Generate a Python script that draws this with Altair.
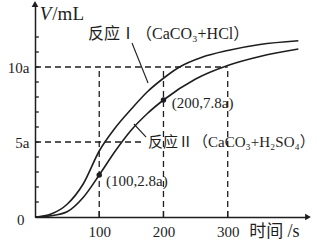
import altair as alt
import pandas as pd

# ---- data ----
t_I = [0, 25, 50, 75, 100, 125, 150, 175, 200, 225, 260, 300, 350, 410]
v_I = [0, 0.2, 0.85, 2.2, 4.4, 5.95, 7.2, 8.35, 9.25, 10.0, 10.65, 11.1, 11.5, 11.75]
t_II = [0, 25, 50, 75, 100, 125, 150, 175, 200, 250, 300, 350, 410]
v_II = [0, 0.08, 0.35, 1.3, 2.8, 4.4, 5.8, 6.9, 7.8, 9.2, 10.1, 10.7, 11.2]

x_tick_labels = [100, 200, 300]
y_tick_labels = [5, 10]
y_minor_ticks = list(range(1, 13))

marked_t = [100, 200]
marked_v = [2.8, 7.8]
marked_text = ["(100,2.8a)", "(200,7.8a)"]

XMAX, YMAX = 425, 14.2
INK = "#1e1e1e"
SERIF = "Liberation Serif"
MIX = "Liberation Serif, Noto Sans CJK SC"

curves = pd.DataFrame(
    {"t": t_I + t_II, "v": v_I + v_II,
     "s": ["I"] * len(t_I) + ["II"] * len(t_II)}
)

xs = alt.Scale(domain=[0, XMAX], nice=False, zero=True)
ys = alt.Scale(domain=[0, YMAX], nice=False, zero=True)

base = alt.Chart(curves)

lines = base.mark_line(interpolate="monotone", color=INK, strokeWidth=1.6).encode(
    x=alt.X("t:Q", scale=xs,
            axis=alt.Axis(values=x_tick_labels, ticks=False, grid=False, title=None,
                          domainColor=INK, domainWidth=1.5, labelFont=SERIF,
                          labelFontSize=15, labelColor=INK, labelPadding=7)),
    y=alt.Y("v:Q", scale=ys,
            axis=alt.Axis(values=y_tick_labels, ticks=False, grid=False, title=None,
                          labelExpr="datum.value + 'a'",
                          domainColor=INK, domainWidth=1.5, labelFont=SERIF,
                          labelFontSize=15, labelColor=INK, labelPadding=6)),
    detail="s:N",
)

dash_df = pd.DataFrame({
    "x": [0, 0, 100, 200, 300],
    "x2": [300, 170, 100, 200, 300],
    "y": [10, 5, 0, 0, 0],
    "y2": [10, 5, 10, 10, 10],
})
dashes = alt.Chart(dash_df).mark_rule(color=INK, strokeWidth=1.3, strokeDash=[6, 4]).encode(
    x=alt.X("x:Q", scale=xs), x2="x2:Q", y=alt.Y("y:Q", scale=ys), y2="y2:Q"
)

ytick_df = pd.DataFrame({"y": y_minor_ticks, "x": [0] * 12, "x2": [6] * 12})
yticks = alt.Chart(ytick_df).mark_rule(color=INK, strokeWidth=1.3).encode(
    x=alt.X("x:Q", scale=xs), x2="x2:Q", y=alt.Y("y:Q", scale=ys)
)
xtick_df = pd.DataFrame({"x": x_tick_labels, "y": [0] * 3, "y2": [0.4] * 3})
xticks = alt.Chart(xtick_df).mark_rule(color=INK, strokeWidth=1.3).encode(
    x=alt.X("x:Q", scale=xs), y=alt.Y("y:Q", scale=ys), y2="y2:Q"
)

pts = alt.Chart(pd.DataFrame({"t": marked_t, "v": marked_v})).mark_point(
    filled=True, color=INK, size=30, opacity=1
).encode(x=alt.X("t:Q", scale=xs), y=alt.Y("v:Q", scale=ys))

lead_df = pd.DataFrame({"x": [151, 154], "y": [11.6, 6.2], "x2": [176, 173], "y2": [8.93, 5.33]})
leaders = alt.Chart(lead_df).mark_rule(color=INK, strokeWidth=1.1).encode(
    x=alt.X("x:Q", scale=xs), x2="x2:Q", y=alt.Y("y:Q", scale=ys), y2="y2:Q"
)

arrow_up = alt.Chart(pd.DataFrame({"x": [0], "y": [YMAX]})).mark_point(
    shape="triangle-up", filled=True, color=INK, size=45, opacity=1
).encode(x=alt.X("x:Q", scale=xs), y=alt.Y("y:Q", scale=ys))
arrow_right = alt.Chart(pd.DataFrame({"x": [XMAX], "y": [0]})).mark_point(
    shape="triangle-right", filled=True, color=INK, size=45, opacity=1
).encode(x=alt.X("x:Q", scale=xs), y=alt.Y("y:Q", scale=ys))


def label(texts, xs_, ys_, size, font=MIX, align="left", style="normal"):
    df = pd.DataFrame({"x": xs_, "y": ys_, "txt": texts})
    return alt.Chart(df).mark_text(
        align=align, baseline="middle", fontSize=size, font=font, color=INK,
        fontStyle=style
    ).encode(x=alt.X("x:Q", scale=xs), y=alt.Y("y:Q", scale=ys), text="txt:N")


texts = [
    label(["V"], [7.5], [13.55], 19, font=SERIF, style="italic"),
    label(["/mL"], [27], [13.55], 19, font=SERIF),
    label(["时间"], [360], [-0.98], 17, font="Noto Sans CJK SC", align="center"),
    label(["/s"], [393], [-0.98], 18, font=SERIF),
    label(["0"], [-22], [-0.2], 15, font=SERIF, align="center"),
    label(["反应Ⅰ（CaCO₃+HCl）"], [82.5], [12.2], 16),
    label(["反应Ⅱ（CaCO₃+H₂SO₄）"], [176], [5.0], 15),
    label([marked_text[0]], [110.5], [2.4], 15, font=SERIF),
    label([marked_text[1]], [213], [7.6], 15, font=SERIF),
]

chart = alt.layer(
    dashes, lines, yticks, xticks, leaders, pts, arrow_up, arrow_right, *texts
).properties(
    width=273, height=213,
    autosize=alt.AutoSizeParams(type="none"),
    padding={"left": 35, "top": 4, "right": 16, "bottom": 24},
    background="white",
).configure_view(stroke=None)

chart.save("out.html", embed_options={"renderer": "svg", "actions": False})
